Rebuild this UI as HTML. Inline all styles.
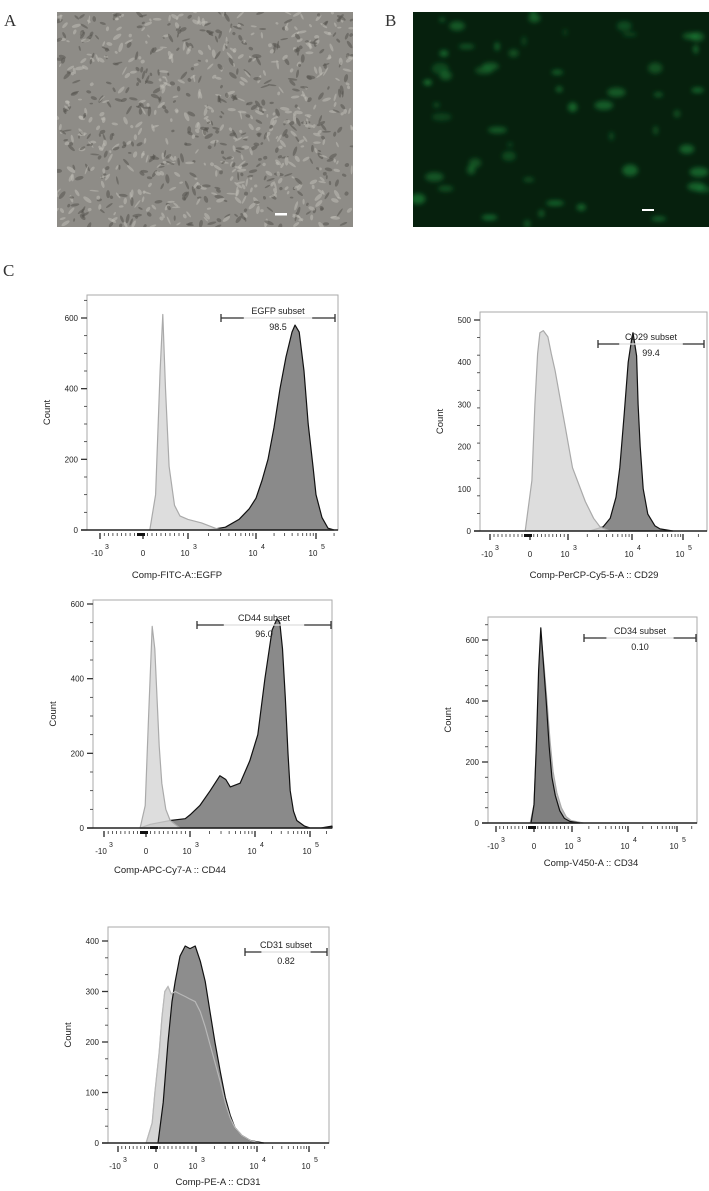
<!DOCTYPE html>
<html><head><meta charset="utf-8">
<style>
html,body{margin:0;padding:0;background:#fff;}
svg{display:block;}
text{font-family:"Liberation Sans",sans-serif;fill:#222;}
.pl{font-family:"Liberation Serif",serif;font-size:17px;fill:#333;}
</style></head>
<body>
<svg id="fig" width="709" height="1191" viewBox="0 0 709 1191" xmlns="http://www.w3.org/2000/svg">
<defs>
<clipPath id="clipA"><rect x="57" y="12" width="296" height="215"/></clipPath>
<clipPath id="clipB"><rect x="413" y="12" width="296" height="215"/></clipPath>
<filter id="blur"><feGaussianBlur stdDeviation="2.5"/></filter>
</defs>
<text class="pl" x="4" y="26">A</text>
<text class="pl" x="385" y="26">B</text>
<text class="pl" x="3" y="276">C</text>
<g id="photoA" clip-path="url(#clipA)"><rect x="57" y="12" width="296" height="215" fill="#8e8c87"/></g>
<g id="photoB" clip-path="url(#clipB)"><rect x="413" y="12" width="296" height="215" fill="#06200d"/></g>
<g id="charts"></g>
</svg>
<script>
// ---- Data (x in axis units: -1=-10^3, 0=0, 1=10^3, 2=10^4, 3=10^5) ----
const egfpCtrlX = [0.15,0.28,0.38,0.44,0.5,0.58,0.7,0.82,1.0,1.2,1.4,1.5];
const egfpCtrlY = [0,100,450,610,400,180,70,40,30,20,5,0];
const egfpX = [1.3,1.55,1.75,1.9,2.0,2.1,2.2,2.3,2.4,2.5,2.6,2.65,2.72,2.8,2.87,2.95,3.0,3.1,3.2,3.3];
const egfpY = [0,8,30,60,90,140,200,290,400,490,560,580,560,450,300,180,100,35,5,0];

const cd29CtrlX = [-0.12,0.05,0.13,0.2,0.26,0.35,0.47,0.56,0.66,0.8,0.92,1.07,1.17,1.27,1.4,1.5,1.65];
const cd29CtrlY = [0,120,300,420,470,475,460,420,380,310,250,150,110,70,30,10,0];
const cd29X = [1.34,1.55,1.66,1.75,1.81,1.88,1.94,2.0,2.02,2.09,2.12,2.16,2.22,2.31,2.45,2.55,2.8];
const cd29Y = [0,10,30,80,150,280,400,460,470,415,300,200,100,40,12,5,0];

const cd44CtrlX = [-0.14,-0.02,0.06,0.14,0.2,0.25,0.3,0.36,0.45,0.55,0.77];
const cd44CtrlY = [0,60,300,540,480,350,220,120,50,20,0];
const cd44X = [-0.14,0.1,0.55,0.89,1.0,1.15,1.31,1.46,1.55,1.62,1.77,1.92,2.05,2.18,2.31,2.4,2.45,2.5,2.55,2.6,2.64,2.7,2.76,2.9,3.0,3.2,3.4];
const cd44Y = [0,10,20,25,35,60,100,140,130,110,120,180,250,400,530,560,550,480,350,200,100,45,20,5,0,0,5];

const cd34CtrlX = [-0.1,0.0,0.08,0.18,0.26,0.33,0.42,0.5,0.6,0.72,0.85,0.98,1.2];
const cd34CtrlY = [0,60,300,620,520,420,270,170,100,50,20,8,0];
const cd34X = [-0.08,0.0,0.06,0.12,0.18,0.25,0.32,0.4,0.47,0.56,0.68,0.8,0.95,1.14];
const cd34Y = [0,60,250,500,640,520,400,250,150,90,40,15,5,0];

const cd31CtrlX = [-0.26,-0.1,-0.03,0.08,0.15,0.22,0.3,0.38,0.48,0.6,0.73,0.85,0.98,1.07,1.15,1.23,1.31,1.4,1.48,1.56,1.64,1.75,1.89,2.05];
const cd31CtrlY = [0,40,100,180,250,300,310,295,300,295,290,285,280,260,230,195,160,120,80,50,30,15,5,0];
const cd31X = [0.05,0.18,0.3,0.4,0.48,0.6,0.73,0.85,0.98,1.07,1.15,1.23,1.31,1.4,1.48,1.56,1.64,1.75,1.89,2.13];
const cd31Y = [0,80,200,280,320,370,390,385,390,360,320,260,200,140,90,55,30,15,5,0];

const xTickLabels = ["-10","0","10","10","10"];
const xTickExp = ["3","","3","4","5"];
const yTicks1 = [0,200,400,600];
const yTicks2 = [0,100,200,300,400,500];
const yTicks5 = [0,100,200,300,400];

// ---- Layout config ----
const panels = [
 {id:"egfp",box:[87,295,338,530],ux:[100,143,188,256,316],refV:600,refPx:212,yMax:660,ticks:yTicks1,
  ctrl:[egfpCtrlX,egfpCtrlY],samp:[egfpX,egfpY],title:"Comp-FITC-A::EGFP",tx:177,ty:578,
  gate:[221,335,318],gName:"EGFP subset",gVal:"98.5"},
 {id:"cd29",box:[480,312,707,531],ux:[490,530,568,632,683],refV:500,refPx:211,yMax:520,ticks:yTicks2,
  ctrl:[cd29CtrlX,cd29CtrlY],samp:[cd29X,cd29Y],title:"Comp-PerCP-Cy5-5-A :: CD29",tx:594,ty:578,
  gate:[598,704,344],gName:"CD29 subset",gVal:"99.4"},
 {id:"cd44",box:[93,600,332,828],ux:[104,146,190,255,310],refV:600,refPx:224,yMax:610,ticks:yTicks1,
  ctrl:[cd44CtrlX,cd44CtrlY],samp:[cd44X,cd44Y],title:"Comp-APC-Cy7-A :: CD44",tx:170,ty:873,
  gate:[197,331,625],gName:"CD44 subset",gVal:"96.0"},
 {id:"cd34",box:[488,617,697,823],ux:[496,534,572,628,677],refV:600,refPx:183,yMax:660,ticks:yTicks1,
  ctrl:[cd34CtrlX,cd34CtrlY],samp:[cd34X,cd34Y],title:"Comp-V450-A :: CD34",tx:591,ty:866,
  gate:[584,696,638],gName:"CD34 subset",gVal:"0.10"},
 {id:"cd31",box:[108,927,329,1143],ux:[118,156,196,257,309],refV:400,refPx:202,yMax:425,ticks:yTicks5,
  ctrl:[cd31CtrlX,cd31CtrlY],samp:[cd31X,cd31Y],title:"Comp-PE-A :: CD31",tx:218,ty:1185,
  gate:[245,327,952],gName:"CD31 subset",gVal:"0.82"}
];
const NS="http://www.w3.org/2000/svg";
function mk(tag,attrs,parent){const e=document.createElementNS(NS,tag);for(const k in attrs)e.setAttribute(k,attrs[k]);parent.appendChild(e);return e;}

// decorative photo textures (deterministic)
let seed=7;function rnd(){seed=(seed*16807)%2147483647;return seed/2147483647;}
const pa=document.getElementById('photoA');
for(let i=0;i<900;i++){const cx=57+rnd()*296,cy=12+rnd()*215;
 const e=mk('ellipse',{cx:cx,cy:cy,rx:1.5+rnd()*3.5,ry:0.8+rnd()*1.2,transform:`rotate(${rnd()*180} ${cx} ${cy})`,fill:rnd()<0.55?'#bdbcb4':'#55544f',opacity:0.55},pa);
 
 }
mk('rect',{x:275,y:213,width:12,height:2.5,fill:'#fff'},pa);
const pb=document.getElementById('photoB');
const gb=mk('g',{filter:'url(#blur)'},pb);
for(let i=0;i<55;i++){const cx=413+rnd()*296,cy=12+rnd()*215;
 const e=mk('ellipse',{cx:cx,cy:cy,rx:2+rnd()*8,ry:2+rnd()*4,fill:'#1f8a3c',opacity:0.3+rnd()*0.4},gb);
 
 }
mk('rect',{x:642,y:209,width:12,height:2,fill:'#fff'},pb);

const root=document.getElementById('charts');
panels.forEach(p=>{
 const g=mk('g',{},root);
 
 
 const [x0,y0,x1,y1]=p.box;
 const sx=u=>{const i=Math.max(0,Math.min(3,Math.floor(u+1)));const a=p.ux[i],b=p.ux[i+1];return a+(u-(i-1))*(b-a);};
 const sy=v=>y1-v*p.refPx/p.refV;
 mk('rect',{x:x0,y:y0,width:x1-x0,height:y1-y0,fill:'#fff',stroke:'#aaa','stroke-width':1},g);
 function area(xs,ys,fill,stroke,name){
   let d=`M${sx(xs[0])},${y1}`;
   xs.forEach((x,i)=>{d+=` L${sx(x).toFixed(1)},${sy(ys[i]).toFixed(1)}`;});
   d+=` L${sx(xs[xs.length-1])},${y1} Z`;
   const el=mk('path',{d:d,fill:fill,stroke:stroke,'stroke-width':1.2,'stroke-linejoin':'round'},g);
   
   
 }
 if(p.id==='cd31'){area(p.ctrl[0],p.ctrl[1],'#d6d6d6','#c4c4c4','control-histogram');area(p.samp[0],p.samp[1],'#8d8d8d','#111','sample-histogram');
   const xs=p.ctrl[0],ys=p.ctrl[1];let d='';xs.forEach((x,i)=>{d+=(i?' L':'M')+sx(x).toFixed(1)+','+sy(ys[i]).toFixed(1);});
   mk('path',{d:d,fill:'none',stroke:'#b8b8b8','stroke-width':1.2},g);}
 else if(p.id==='cd34'){area(p.ctrl[0],p.ctrl[1],'#bdbdbd','#aaa','control-histogram');area(p.samp[0],p.samp[1],'#808080','#111','sample-histogram');}
 else{area(p.samp[0],p.samp[1],'#8a8a8a','#111','sample-histogram');area(p.ctrl[0],p.ctrl[1],'rgba(215,215,215,0.85)','#aaa','control-histogram');}
 // baseline
 mk('line',{x1:x0-6,y1:y1,x2:x1,y2:y1,stroke:'#222','stroke-width':1.4},g);
 // y axis
 for(let v=0;v<=p.yMax;v+=p.refV/12){const yy=sy(v);const major=p.ticks.some(t=>Math.abs(t-v)<1e-6);
   mk('line',{x1:x0-(major?6:3),y1:yy,x2:x0,y2:yy,stroke:'#333','stroke-width':major?1.3:0.8},g);}
 p.ticks.forEach(t=>{const tx=mk('text',{x:x0-9,y:sy(t)+3,'text-anchor':'end','font-size':8},g);tx.textContent=t;
   
   });
 const yl=mk('text',{x:0,y:0,'font-size':9.5,'text-anchor':'middle',transform:`translate(${x0-37},${(y0+y1)/2}) rotate(-90)`},g);yl.textContent='Count';
 
 
 // x ticks
 const tb=y1+3;
 for(let k=0;k<5;k++){mk('line',{x1:p.ux[k],y1:tb,x2:p.ux[k],y2:tb+6,stroke:'#222','stroke-width':1.3},g);}
 for(let u=-0.9;u<0.95;u+=0.1){if(Math.abs(u)<0.05)continue;mk('line',{x1:sx(u),y1:tb,x2:sx(u),y2:tb+3,stroke:'#333','stroke-width':0.8},g);}
 for(let d=1;d<3;d++)for(let m=2;m<10;m++){const u=d+Math.log10(m);mk('line',{x1:sx(u),y1:tb,x2:sx(u),y2:tb+3,stroke:'#333','stroke-width':0.8},g);}
 for(let m=2;m<4;m++){const u=3+Math.log10(m);if(sx(u)<x1)mk('line',{x1:sx(u),y1:tb,x2:sx(u),y2:tb+3,stroke:'#333','stroke-width':0.8},g);}
 mk('rect',{x:p.ux[1]-6,y:tb,width:8,height:3,fill:'#111'},g);
 xTickLabels.forEach((lb,k)=>{const tx=mk('text',{x:p.ux[k]-(xTickExp[k]?3:0),y:y1+26,'text-anchor':'middle','font-size':8},g);tx.textContent=lb;
   
   
   if(xTickExp[k]){const ex=mk('text',{x:p.ux[k]+5,y:y1+19,'font-size':7},g);ex.textContent=xTickExp[k];
     
     }});
 const xt=mk('text',{x:p.tx,y:p.ty,'text-anchor':'middle','font-size':9.5},g);xt.textContent=p.title;
 
 
 // gate
 const [ga,gb2,gy]=p.gate;const gm=(ga+gb2)/2;
 const gg=mk('g',{},g);
 
 
 mk('line',{x1:ga,y1:gy,x2:gb2,y2:gy,stroke:'#ddd','stroke-width':1.2},gg);
 mk('line',{x1:ga,y1:gy,x2:ga+(gb2-ga)*0.2,y2:gy,stroke:'#333','stroke-width':1.3},gg);
 mk('line',{x1:gb2-(gb2-ga)*0.2,y1:gy,x2:gb2,y2:gy,stroke:'#333','stroke-width':1.3},gg);
 mk('line',{x1:ga,y1:gy-4,x2:ga,y2:gy+4,stroke:'#333','stroke-width':1.3},gg);
 mk('line',{x1:gb2,y1:gy-4,x2:gb2,y2:gy+4,stroke:'#333','stroke-width':1.3},gg);
 const gn=mk('text',{x:gm,y:gy-4,'text-anchor':'middle','font-size':9},gg);gn.textContent=p.gName;
 
 
 const gv=mk('text',{x:gm,y:gy+12,'text-anchor':'middle','font-size':9},gg);gv.textContent=p.gVal;
 
 
});
</script>
</body></html>
